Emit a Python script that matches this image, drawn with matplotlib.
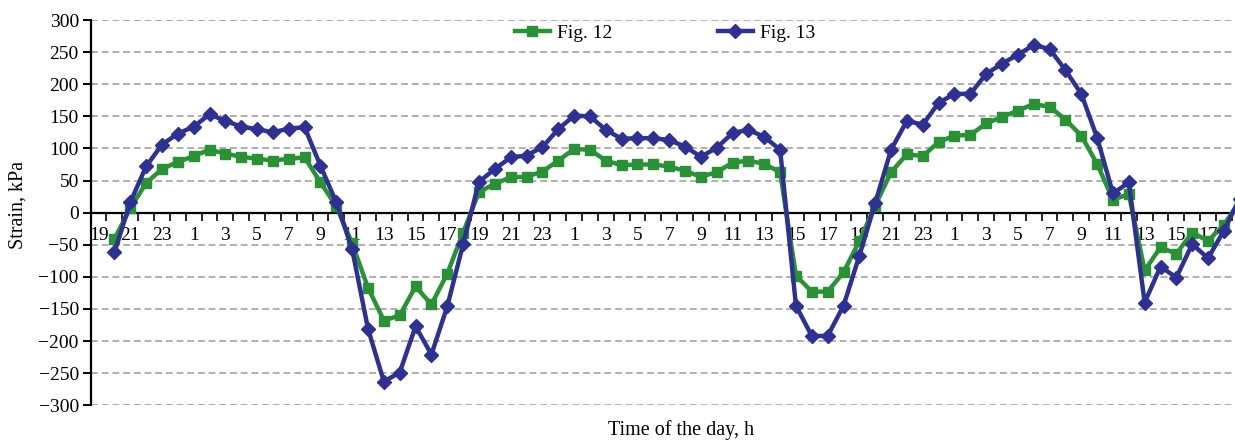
import numpy as np
import matplotlib
matplotlib.use("Agg")
import matplotlib.pyplot as plt
from matplotlib.ticker import FixedLocator, NullFormatter

# hourly readings, first category (19 h) has no data
fig12 = [np.nan, -41, 7, 46, 68, 79, 88, 98, 92, 87, 84, 81, 84, 86, 47, 10,
         -48, -117, -168, -160, -115, -143, -95, -31, 32, 45, 55, 56, 64, 81,
         99, 98, 81, 74, 75, 75, 72, 65, 56, 63, 78, 81, 76, 63, -98, -123,
         -123, -93, -44, 11, 63, 91, 88, 110, 120, 121, 139, 149, 159, 169,
         165, 145, 120, 76, 20, 29, -90, -54, -64, -31, -44, -19, 18]
fig13 = [np.nan, -62, 16, 72, 106, 123, 134, 153, 143, 134, 130, 125, 131, 133, 73, 16,
         -57, -181, -263, -249, -177, -221, -146, -49, 48, 68, 86, 89, 102, 130,
         151, 150, 129, 115, 116, 116, 113, 103, 87, 101, 124, 129, 118, 98, -145,
         -192, -192, -145, -67, 15, 98, 143, 137, 171, 185, 185, 216, 232, 246,
         261, 255, 222, 185, 117, 30, 47, -140, -84, -101, -49, -71, -28, 22]
hour_labels = ['19', '21', '23', '1', '3', '5', '7', '9', '11', '13', '15', '17',
               '19', '21', '23', '1', '3', '5', '7', '9', '11', '13', '15', '17',
               '19', '21', '23', '1', '3', '5', '7', '9', '11', '13', '15', '17',
               '19']
yticks = [-300, -250, -200, -150, -100, -50, 0, 50, 100, 150, 200, 250, 300]

GREEN = '#2a9136'
BLUE = '#2e3192'
plt.rcParams['font.family'] = ['Liberation Serif', 'DejaVu Serif']

fig = plt.figure(figsize=(12.35, 4.4), dpi=100)
ax = fig.add_axes([0.0734, 0.0789, 0.9266, 0.8756])

x = np.arange(len(fig12))
ax.plot(x, fig12, color=GREEN, lw=3.2, marker='s', ms=6.5, label='Fig. 12', zorder=3)
ax.plot(x, fig13, color=BLUE, lw=3.2, marker='D', ms=7.5, label='Fig. 13', zorder=4)

ax.set_xlim(-0.5, 71.7)
ax.set_ylim(-300, 300)

# grid lines (dashed) except at zero
for v in yticks:
    if v != 0:
        ax.axhline(v, color='#9a9a9a', lw=1.1, ls=(0, (4.5, 2.5)), zorder=1)

for s in ['top', 'right']:
    ax.spines[s].set_visible(False)
ax.spines['bottom'].set_position(('data', 0))
ax.spines['bottom'].set_linewidth(1.6)
ax.spines['left'].set_linewidth(1.6)

ax.set_yticks(yticks)
ax.set_yticklabels([str(v).replace('-', '\u2212') for v in yticks])
ax.tick_params(axis='y', direction='out', length=6, width=1.4, pad=2.5, labelsize=14)

ax.xaxis.set_major_locator(FixedLocator(np.arange(0.5, 72, 1)))
ax.xaxis.set_major_formatter(NullFormatter())
ax.xaxis.set_minor_locator(FixedLocator(np.arange(0, 73, 2)))
ax.set_xticklabels(hour_labels, minor=True)
ax.tick_params(axis='x', which='major', direction='out', length=6, width=1.2)
ax.tick_params(axis='x', which='minor', length=0, pad=10, labelsize=14)

ax.legend(loc='center', bbox_to_anchor=(0.502, 0.9655), ncol=2, frameon=False,
          fontsize=14, handlelength=1.8, handletextpad=0.4, columnspacing=5.4)

fig.text(681 / 1235, 1 - 430 / 440, 'Time of the day, h', ha='center', va='center', fontsize=14.5)
fig.text(18 / 1235, 1 - 205 / 440, 'Strain, kPa', ha='center', va='center',
         rotation=90, fontsize=14.5)

fig.savefig('out.png', dpi=100)
